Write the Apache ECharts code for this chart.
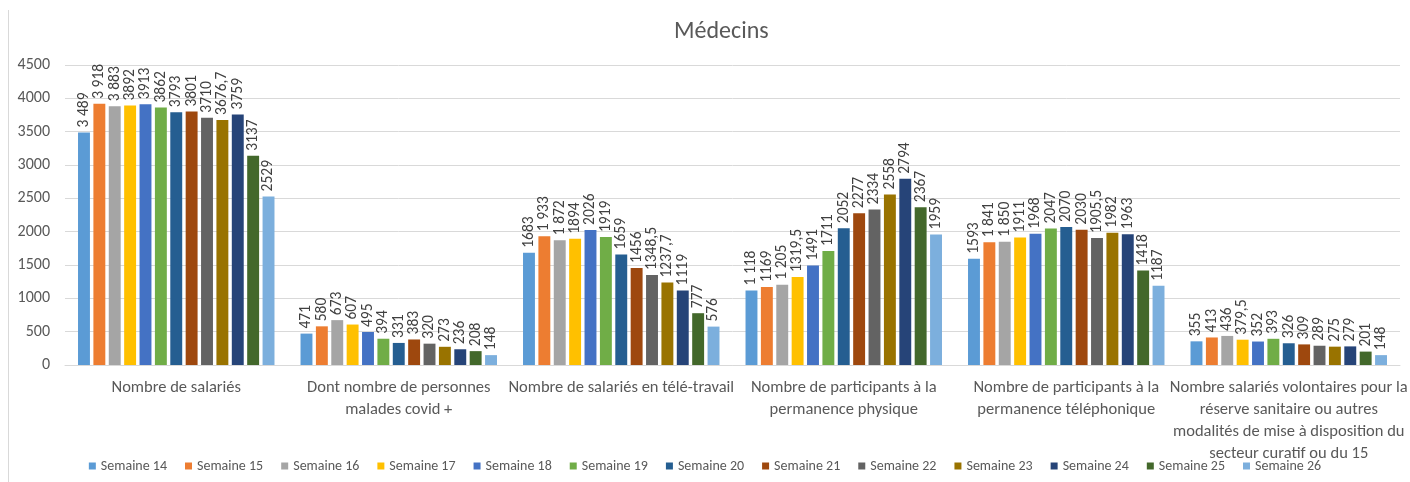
<!DOCTYPE html>
<html>
<head>
<meta charset="utf-8">
<script src="https://cdn.jsdelivr.net/npm/echarts@6/dist/echarts.min.js"></script>
<style>
  html, body { margin: 0; padding: 0; background: #fff; }
  #chart { width: 1410px; height: 482px; }
</style>
</head>
<body>
<div id="chart"></div>
<script>
// Catégories (indicateurs suivis)
const categories = [
  'Nombre de salariés',
  'Dont nombre de personnes\nmalades covid +',
  'Nombre de salariés en télé-travail',
  'Nombre de participants à la\npermanence physique',
  'Nombre de participants à la\npermanence téléphonique',
  'Nombre salariés volontaires pour la\nréserve sanitaire ou autres\nmodalités de mise à disposition du\nsecteur curatif ou du 15'
];

const weeks = ['Semaine 14', 'Semaine 15', 'Semaine 16', 'Semaine 17', 'Semaine 18', 'Semaine 19',
  'Semaine 20', 'Semaine 21', 'Semaine 22', 'Semaine 23', 'Semaine 24', 'Semaine 25', 'Semaine 26'];

// Valeurs par semaine (une valeur par catégorie)
const s14 = [3489, 471, 1683, 1118, 1593, 355];
const s15 = [3918, 580, 1933, 1169, 1841, 413];
const s16 = [3883, 673, 1872, 1205, 1850, 436];
const s17 = [3892, 607, 1894, 1319.5, 1911, 379.5];
const s18 = [3913, 495, 2026, 1491, 1968, 352];
const s19 = [3862, 394, 1919, 1711, 2047, 393];
const s20 = [3793, 331, 1659, 2052, 2070, 326];
const s21 = [3801, 383, 1456, 2277, 2030, 309];
const s22 = [3710, 320, 1348.5, 2334, 1905.5, 289];
const s23 = [3676.7, 273, 1237.7, 2558, 1982, 275];
const s24 = [3759, 236, 1119, 2794, 1963, 279];
const s25 = [3137, 208, 777, 2367, 1418, 201];
const s26 = [2529, 148, 576, 1959, 1187, 148];

// Valeurs affichées avec séparateur de milliers (semaine index, catégorie index)
const groupedCells = [[0, 0], [1, 0], [2, 0], [1, 2], [2, 2], [0, 3], [2, 3], [1, 4], [2, 4]];

// Axe des valeurs
const yTicks = [0, 500, 1000, 1500, 2000, 2500, 3000, 3500, 4000, 4500];

const seriesValues = [s14, s15, s16, s17, s18, s19, s20, s21, s22, s23, s24, s25, s26];
const colors = ['#5B9BD5', '#ED7D31', '#A5A5A5', '#FFC000', '#4472C4', '#70AD47',
  '#255E91', '#9E480E', '#636363', '#997300', '#264478', '#43682B', '#7CAFDD'];

const FONT = 'Carlito, "Open Sans", "Noto Sans", sans-serif';

function formatValue(v, si, ci) {
  let txt = String(v).replace('.', ',');
  const grouped = groupedCells.some(c => c[0] === si && c[1] === ci);
  if (grouped && v >= 1000) {
    const s = String(Math.floor(v));
    txt = s.slice(0, s.length - 3) + ' ' + s.slice(-3) + txt.slice(s.length);
  }
  return txt;
}

const chart = echarts.init(document.getElementById('chart'), null, { renderer: 'canvas' });

const series = weeks.map((name, si) => ({
  name: name,
  type: 'bar',
  data: seriesValues[si],
  itemStyle: { color: colors[si] },
  barGap: '29%',
  barCategoryGap: '11.7%',
  label: {
    show: true,
    position: 'top',
    rotate: 90,
    align: 'left',
    verticalAlign: 'middle',
    distance: 5,
    color: '#404040',
    fontFamily: FONT,
    fontSize: 15.5,
    formatter: p => formatValue(p.value, si, p.dataIndex)
  }
}));

chart.setOption({
  animation: false,
  color: colors,
  title: {
    text: 'Médecins',
    left: 669,
    top: 15,
    textStyle: { color: '#595959', fontFamily: FONT, fontSize: 24, fontWeight: 'normal' }
  },
  grid: { left: 65, right: 2, top: 65, bottom: 117, containLabel: false },
  legend: {
    bottom: 4,
    left: 'center',
    itemWidth: 7,
    itemHeight: 7,
    itemGap: 18,
    icon: 'rect',
    textStyle: { color: '#595959', fontFamily: FONT, fontSize: 14 },
    data: weeks
  },
  xAxis: {
    type: 'category',
    data: categories,
    axisLine: { lineStyle: { color: '#D9D9D9' } },
    axisTick: { show: false },
    axisLabel: {
      color: '#595959',
      fontFamily: FONT,
      fontSize: 16.5,
      lineHeight: 22,
      margin: 12,
      interval: 0
    }
  },
  yAxis: {
    type: 'value',
    min: yTicks[0],
    max: yTicks[yTicks.length - 1],
    interval: yTicks[1] - yTicks[0],
    axisLine: { show: false },
    axisTick: { show: false },
    splitLine: { lineStyle: { color: '#D9D9D9', width: 1 } },
    axisLabel: {
      color: '#595959', fontFamily: FONT, fontSize: 16, margin: 15,
      formatter: v => String(v)
    }
  },
  graphic: [{
    type: 'line',
    shape: { x1: 8.5, y1: 10, x2: 8.5, y2: 482 },
    style: { stroke: '#D9D9D9', lineWidth: 1 }
  }],
  series: series
});
</script>
</body>
</html>
